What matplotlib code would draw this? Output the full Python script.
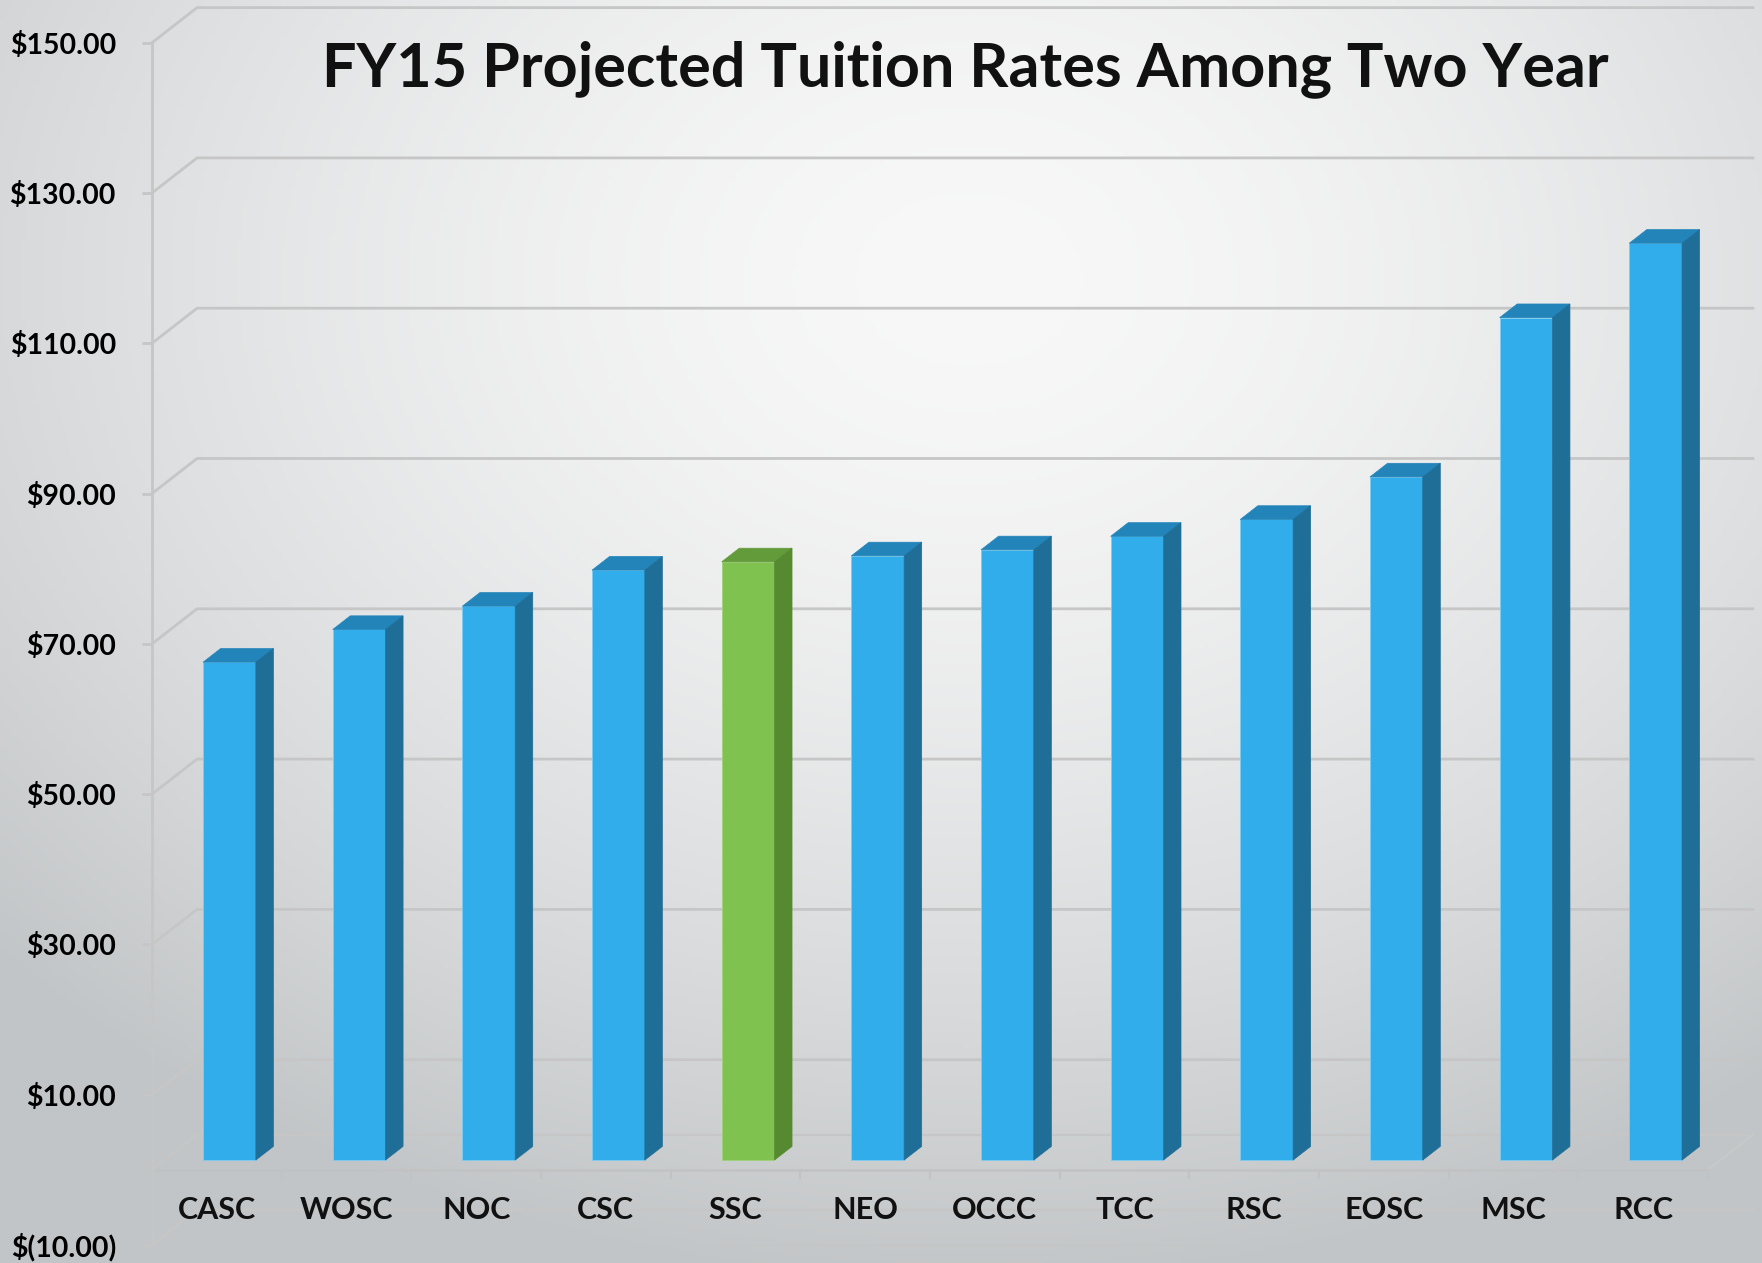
import numpy as np
import matplotlib
matplotlib.use("Agg")
import matplotlib.pyplot as plt
from matplotlib.patches import Polygon
from matplotlib.colors import to_rgb

# ---- data ----
categories = ["CASC", "WOSC", "NOC", "CSC", "SSC", "NEO",
              "OCCC", "TCC", "RSC", "EOSC", "MSC", "RCC"]
tuition = [66.25, 70.60, 73.70, 78.50, 79.60, 80.40,
           81.20, 83.00, 85.25, 90.90, 112.10, 122.00]
highlight = "SSC"
tick_values = [-10, 10, 30, 50, 70, 90, 110, 130, 150]

# colours
blue = ("#31adeb", "#2384b9", "#1f6e98")    # front, top, side
green = ("#80c24f", "#639b3b", "#558a31")
grid_col = "#c6c6c6"

# 3D depth of the wall in data units (x: categories, y: dollars)
DX, DY = 0.347, 4.66
F0, F1 = 0.28, 0.67   # depth of bar front / back face
BAR_W = 0.407

fig = plt.figure(figsize=(17.62, 12.63), dpi=100)

# background gradient
bg = fig.add_axes([0, 0, 1, 1], zorder=-5)
gx, gy = np.meshgrid(np.linspace(0, 1, 400), np.linspace(0, 1, 300))
r = np.sqrt(((gx - 0.55) / 0.75) ** 2 + ((gy - 0.78) / 0.8) ** 2)
t = np.clip(r, 0, 1) ** 1.6
light, dark = np.array(to_rgb("#f8f8f8")), np.array(to_rgb("#c2c5c7"))
img = light[None, None, :] * (1 - t[..., None]) + dark[None, None, :] * t[..., None]
bg.imshow(img, origin="lower", extent=[0, 1, 0, 1], aspect="auto")
bg.axis("off")

ax = fig.add_axes([0.0863, 0.01425, 0.883, 0.952])
ax.patch.set_visible(False)
ax.set_xlim(-0.5, 11.5)
ax.set_ylim(-10, 150)
for s in ax.spines.values():
    s.set_visible(False)

x0, x1 = -0.5, len(categories) - 0.5

# back wall gridlines with their diagonal to the front axis
for v in tick_values:
    ax.plot([x0, x0 + DX, x1 + DX], [v, v + DY, v + DY],
            color=grid_col, lw=2, clip_on=False, zorder=1)

# floor at zero
ax.plot([x0 + DX, x1 + DX], [DY, DY], color=grid_col, lw=1.6, clip_on=False, zorder=1)
ax.plot([x0, x0 + DX], [0, DY], color=grid_col, lw=1.6, clip_on=False, zorder=1)
ax.plot([x0, x1], [0, 0], color="#c0c2c3", lw=1.8, clip_on=False, zorder=2)
ax.plot([x1, x1 + DX], [0, DY], color="#c8caca", lw=1.2, clip_on=False, zorder=1)
for i in range(len(categories)):
    ax.plot([i + 0.5, i + 0.5], [0, -1.1], color="#c0c2c3", lw=1.5, clip_on=False, zorder=2)

# lower floor at -10 (faint)
ax.plot([x0, x1 - 0.25], [-10, -10], color="#c3c5c6", lw=1.2, clip_on=False, zorder=1)
ax.plot([x1 - 0.25, x1 - 0.25 + DX], [-10, -10 + DY], color="#c3c5c6", lw=1.2,
        clip_on=False, zorder=1)

# front value axis
ax.plot([x0, x0], [-10, 150], color=grid_col, lw=2, clip_on=False, zorder=2)

# bars
xs = np.arange(len(categories)) + F0 * DX
bottom = F0 * DY
ddx, ddy = (F1 - F0) * DX, (F1 - F0) * DY
for xc, val, cat in zip(xs, tuition, categories):
    front, top, side = green if cat == highlight else blue
    ax.bar(xc, val, width=BAR_W, bottom=bottom, color=front,
           edgecolor="#7fcdf0" if cat != highlight else "#9fd27a", lw=0.6, zorder=4)
    xl, xr, yt = xc - BAR_W / 2, xc + BAR_W / 2, bottom + val
    ax.add_patch(Polygon([(xl, yt), (xr, yt), (xr + ddx, yt + ddy), (xl + ddx, yt + ddy)],
                         closed=True, facecolor=top, edgecolor=top, lw=0.5, zorder=4))
    ax.add_patch(Polygon([(xr, bottom), (xr, yt), (xr + ddx, yt + ddy), (xr + ddx, bottom + ddy)],
                         closed=True, facecolor=side, edgecolor=side, lw=0.5, zorder=4))

# ticks and labels
fonts = ["Lato", "DejaVu Sans"]
ax.set_yticks(tick_values)
ax.set_yticklabels([f"${v:.2f}" if v >= 0 else f"$({-v:.2f})" for v in tick_values],
                   fontsize=20.5, fontweight="bold", family=fonts)
ax.tick_params(axis="y", length=7, width=2, color=grid_col, pad=19)
ax.set_xticks([])
for i, cat in enumerate(categories):
    ax.text(i, -5.3, cat, ha="center", va="center", fontsize=22,
            fontweight="bold", family=fonts, color="#111111")

fig.text(0.548, 0.945, "FY15 Projected Tuition Rates Among Two Year",
         ha="center", va="center", fontsize=44, fontweight="bold",
         family=fonts, color="#111111")

fig.savefig("out.png", dpi=100)
